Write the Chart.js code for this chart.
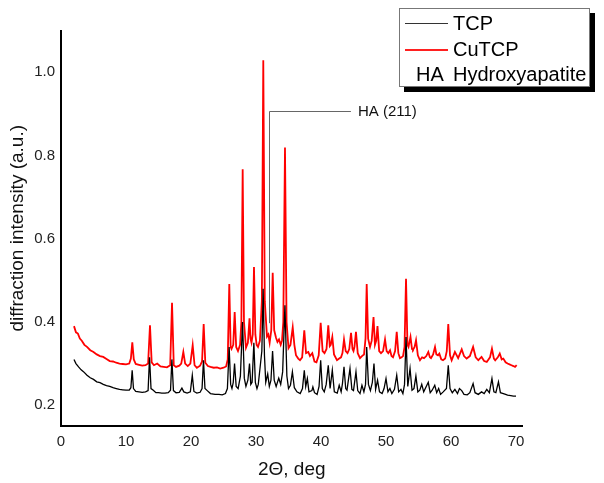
<!DOCTYPE html>
<html>
<head>
<meta charset="utf-8">
<script src="https://cdn.jsdelivr.net/npm/chart.js@4/dist/chart.umd.min.js"></script>
<style>
  html, body { margin: 0; padding: 0; background: #fff; }
  #wrap { position: relative; width: 604px; height: 483px; }
  #legend { position: absolute; left: 399px; top: 8px; width: 189px; height: 77px;
    border: 1px solid #777; background: #fff; box-shadow: 5px 5px 0 #000;
    font-family: "Liberation Sans", Arial, sans-serif; font-size: 20px; color: #000; }
  .row { position: absolute; left: 0; height: 24px; line-height: 24px; white-space: nowrap; }
  .sample { position: absolute; left: 5px; width: 43px; height: 0; }
  .lbl { position: absolute; left: 53px; }
</style>
</head>
<body>
<div id="wrap">
  <canvas id="c" width="604" height="483"></canvas>
  <div id="legend">
    <div class="row" style="top:2px;"><span class="sample" style="top:12px;border-top:1px solid #333;"></span><span class="lbl">TCP</span></div>
    <div class="row" style="top:28px;"><span class="sample" style="top:12px;border-top:2px solid #ff2020;"></span><span class="lbl">CuTCP</span></div>
    <div class="row" style="top:53px;"><span style="position:absolute;left:16px;">HA</span><span class="lbl">Hydroxyapatite</span></div>
  </div>
</div>
<script>
// ---- data ----
const xTicks = [0, 10, 20, 30, 40, 50, 60, 70];
const yTicks = [0.2, 0.4, 0.6, 0.8, 1.0];

const cutcpAngle = [
  2.0,2.3,2.6,2.9,3.2,3.6,4.0,4.5,5.0,5.5,6.0,6.5,7.0,7.5,8.0,8.5,9.0,9.5,10.0,10.5,
  10.75,10.97,11.2,11.5,12.0,12.5,13.0,13.4,13.69,13.95,14.3,14.8,15.3,15.8,16.3,16.8,
  17.08,17.35,17.7,18.2,18.5,18.82,19.1,19.5,19.9,20.26,20.55,20.9,21.4,21.7,21.95,22.2,
  22.6,23.0,23.5,24.0,24.5,25.0,25.4,25.65,25.89,26.1,26.23,26.5,26.72,26.95,27.23,27.55,
  27.75,27.95,28.15,28.46,28.75,29.0,29.15,29.31,29.5,29.69,29.9,30.1,30.31,30.6,30.9,
  31.12,31.35,31.69,31.9,32.1,32.35,32.57,32.8,33.08,33.3,33.54,33.8,34.0,34.2,34.46,
  34.7,35.0,35.3,35.65,35.9,36.15,36.5,36.77,37.1,37.43,37.7,38.05,38.3,38.66,39.0,39.3,
  39.65,39.95,40.25,40.54,40.85,41.12,41.35,41.5,41.74,42.0,42.46,42.8,43.08,43.3,43.54,
  43.8,44.08,44.35,44.62,44.85,45.0,45.15,45.38,45.65,46.0,46.3,46.62,46.85,47.03,47.25,
  47.54,47.8,48.08,48.3,48.5,48.69,48.95,49.23,49.55,49.85,50.1,50.35,50.62,50.85,51.08,
  51.4,51.65,51.9,52.15,52.4,52.62,52.85,53.08,53.3,53.46,53.77,54.0,54.15,54.4,54.62,
  54.9,55.23,55.55,55.85,56.2,56.51,56.75,56.92,57.25,57.54,57.75,58.0,58.2,58.5,58.77,
  59.1,59.35,59.58,59.85,60.1,60.6,61.1,61.65,62.0,62.4,62.9,63.4,63.8,64.2,64.7,65.1,
  65.5,66.0,66.3,66.6,66.8,67.2,67.5,67.8,68.05,68.4,68.7,69.0,69.3,69.6,69.85,70.1
];
const cutcpIntensity = [
  0.390,0.375,0.372,0.360,0.355,0.345,0.340,0.332,0.328,0.322,0.318,0.316,0.311,0.306,0.305,0.302,0.300,0.299,0.298,0.300,
  0.312,0.351,0.310,0.299,0.297,0.295,0.296,0.300,0.392,0.303,0.296,0.300,0.293,0.292,0.291,0.296,
  0.446,0.296,0.292,0.295,0.300,0.328,0.300,0.294,0.300,0.344,0.296,0.290,0.295,0.305,0.395,0.302,
  0.294,0.292,0.290,0.291,0.288,0.290,0.293,0.310,0.491,0.340,0.335,0.345,0.424,0.340,0.330,0.345,
  0.400,0.767,0.400,0.338,0.350,0.409,0.360,0.350,0.370,0.532,0.370,0.345,0.340,0.355,0.450,
  1.029,0.450,0.365,0.370,0.350,0.380,0.518,0.380,0.362,0.352,0.358,0.345,0.355,0.400,0.819,
  0.400,0.337,0.345,0.387,0.345,0.320,0.312,0.308,0.315,0.380,0.325,0.328,0.318,0.325,0.305,0.303,
  0.320,0.398,0.330,0.325,0.335,0.392,0.342,0.345,0.364,0.322,0.308,0.312,0.315,0.325,0.358,
  0.330,0.325,0.335,0.374,0.335,0.330,0.340,0.376,0.325,0.313,0.318,0.322,0.360,0.491,0.360,
  0.340,0.355,0.412,0.345,0.355,0.390,0.330,0.325,0.330,0.358,0.330,0.325,0.332,0.318,0.315,
  0.330,0.376,0.325,0.313,0.315,0.318,0.340,0.504,0.345,0.340,0.364,0.335,0.333,0.340,0.356,
  0.320,0.308,0.315,0.313,0.318,0.328,0.315,0.313,0.322,0.340,0.322,0.320,0.324,0.310,0.308,
  0.312,0.330,0.395,0.320,0.308,0.328,0.313,0.334,0.318,0.312,0.318,0.340,0.315,0.308,0.316,0.306,
  0.304,0.315,0.336,0.312,0.308,0.315,0.324,0.310,0.312,0.303,0.300,0.298,0.296,0.294,0.292,0.296
];

const tcpAngle = [
  2.0,2.3,2.7,3.1,3.5,4.0,4.5,5.0,5.5,6.0,6.5,7.0,7.5,8.0,8.5,9.0,9.5,10.0,10.5,10.75,
  10.95,11.15,11.5,12.0,12.5,13.0,13.4,13.62,13.85,14.2,14.6,15.0,15.5,16.0,16.5,16.85,
  17.06,17.3,17.7,18.2,18.6,18.9,19.4,19.9,20.2,20.45,20.9,21.4,21.7,21.92,22.15,22.5,
  23.0,23.7,24.3,24.8,25.3,25.6,25.87,26.1,26.3,26.5,26.7,26.95,27.25,27.6,27.93,28.2,
  28.45,28.75,29.0,29.2,29.4,29.67,29.9,30.15,30.35,30.9,31.1,31.3,31.5,31.8,32.05,32.3,
  32.55,32.8,33.1,33.5,33.8,34.1,34.45,34.75,35.0,35.3,35.6,35.9,36.3,36.8,37.15,37.43,
  37.65,37.9,38.15,38.6,38.75,39.0,39.4,39.7,39.95,40.2,40.5,40.8,41.12,41.4,41.74,42.05,
  42.5,42.8,43.1,43.3,43.54,43.8,44.0,44.46,44.75,45.0,45.38,45.65,46.0,46.3,46.6,46.85,
  47.03,47.3,47.6,47.9,48.15,48.4,48.7,49.0,49.4,49.7,50.0,50.3,50.6,50.9,51.3,51.65,
  51.95,52.3,52.6,52.85,53.08,53.35,53.7,54.0,54.3,54.6,54.9,55.2,55.5,55.8,56.1,56.5,
  56.8,57.1,57.5,57.8,58.1,58.4,58.8,59.3,59.58,59.85,60.2,60.6,61.0,61.3,61.65,62.0,
  62.5,62.9,63.4,63.7,64.2,64.7,65.1,65.5,65.9,66.3,66.6,66.9,67.3,67.6,68.05,68.4,
  68.7,69.2,69.6,70.0
];
const tcpIntensity = [
  0.310,0.300,0.292,0.285,0.280,0.272,0.266,0.262,0.256,0.254,0.250,0.247,0.245,0.242,0.240,0.238,0.237,0.236,0.236,0.242,
  0.284,0.240,0.233,0.232,0.231,0.232,0.235,0.315,0.240,0.236,0.230,0.230,0.229,0.229,0.230,0.236,
  0.310,0.235,0.230,0.231,0.241,0.232,0.229,0.232,0.272,0.233,0.229,0.231,0.240,0.308,0.240,0.235,
  0.228,0.226,0.226,0.225,0.228,0.240,0.340,0.250,0.240,0.255,0.300,0.245,0.240,0.270,0.400,0.265,
  0.245,0.260,0.300,0.250,0.255,0.350,0.255,0.240,0.250,0.330,0.480,0.320,0.255,0.275,0.245,0.260,
  0.330,0.260,0.245,0.265,0.250,0.280,0.440,0.270,0.240,0.248,0.280,0.242,0.232,0.228,0.240,0.284,
  0.245,0.264,0.232,0.235,0.244,0.230,0.226,0.245,0.308,0.240,0.232,0.250,0.296,0.240,0.284,0.232,
  0.229,0.248,0.232,0.252,0.292,0.240,0.236,0.288,0.238,0.235,0.280,0.235,0.228,0.248,0.232,0.250,
  0.340,0.250,0.235,0.255,0.300,0.238,0.260,0.232,0.228,0.240,0.264,0.232,0.240,0.228,0.238,0.272,
  0.232,0.238,0.228,0.250,0.364,0.245,0.288,0.236,0.240,0.270,0.232,0.236,0.250,0.232,0.242,0.255,
  0.230,0.236,0.248,0.230,0.240,0.226,0.232,0.240,0.296,0.240,0.230,0.238,0.228,0.240,0.235,0.226,
  0.225,0.230,0.252,0.230,0.226,0.232,0.228,0.238,0.230,0.264,0.232,0.230,0.256,0.230,0.228,0.226,
  0.224,0.223,0.222,0.222
];

// annotation (HA 211 reflection)
const annotationText = 'HA (211)';
const annotationAngle = 32.0;
const annotationLowValue = 0.397;
const annotationHighValue = 0.907;
const annotationEndAngle = 44.6;

const toPoints = (xs, ys) => xs.map((x, i) => ({ x, y: ys[i] }));

const FONT = '"Liberation Sans", Arial, sans-serif';

const annotationPlugin = {
  id: 'haLabel',
  afterDatasetsDraw(chart) {
    const { ctx, scales: { x, y } } = chart;
    const px = Math.round(x.getPixelForValue(annotationAngle)) + 0.5;
    const pyLow = y.getPixelForValue(annotationLowValue);
    const pyHigh = Math.round(y.getPixelForValue(annotationHighValue)) + 0.5;
    const pxEnd = x.getPixelForValue(annotationEndAngle);
    ctx.save();
    ctx.strokeStyle = '#666';
    ctx.lineWidth = 1;
    ctx.beginPath();
    ctx.moveTo(px, pyLow);
    ctx.lineTo(px, pyHigh);
    ctx.lineTo(pxEnd, pyHigh);
    ctx.stroke();
    ctx.fillStyle = '#111';
    ctx.font = '15px ' + FONT;
    ctx.textBaseline = 'middle';
    ctx.textAlign = 'left';
    ctx.fillText(annotationText, pxEnd + 7, pyHigh);
    ctx.restore();
  }
};

new Chart(document.getElementById('c'), {
  type: 'line',
  data: {
    datasets: [
      { label: 'TCP', data: toPoints(tcpAngle, tcpIntensity), borderColor: '#000', borderWidth: 1.3, pointRadius: 0, tension: 0, fill: false },
      { label: 'CuTCP', data: toPoints(cutcpAngle, cutcpIntensity), borderColor: '#ff0000', borderWidth: 1.8, pointRadius: 0, tension: 0, fill: false }
    ]
  },
  options: {
    responsive: false,
    animation: false,
    layout: { padding: { left: 0, right: 81.5, top: 30.6, bottom: 0 } },
    plugins: { legend: { display: false }, tooltip: { enabled: false } },
    scales: {
      x: {
        type: 'linear', min: 0, max: 71,
        afterFit(s) { s.height = 57; },
        afterBuildTicks(s) { s.ticks = xTicks.map(v => ({ value: v })); },
        grid: { display: false, drawTicks: false },
        border: { display: true, color: '#000', width: 2 },
        ticks: { padding: 7, color: '#222', font: { family: FONT, size: 15 }, callback: v => String(v), maxRotation: 0 },
        title: { display: true, text: '2\u0398, deg', color: '#111', font: { family: FONT, size: 19 }, padding: { top: 0, bottom: 2 } }
      },
      y: {
        type: 'linear', min: 0.15, max: 1.1,
        afterFit(s) { s.width = 61; },
        afterBuildTicks(s) { s.ticks = yTicks.map(v => ({ value: v })); },
        grid: { display: false, drawTicks: false },
        border: { display: true, color: '#000', width: 2 },
        ticks: { padding: 6, color: '#222', font: { family: FONT, size: 15 }, callback: v => Number(v).toFixed(1) },
        title: { display: true, text: 'diffraction intensity (a.u.)', color: '#111', font: { family: FONT, size: 19 }, padding: { top: 6, bottom: 0 } }
      }
    }
  },
  plugins: [annotationPlugin]
});
</script>
</body>
</html>
